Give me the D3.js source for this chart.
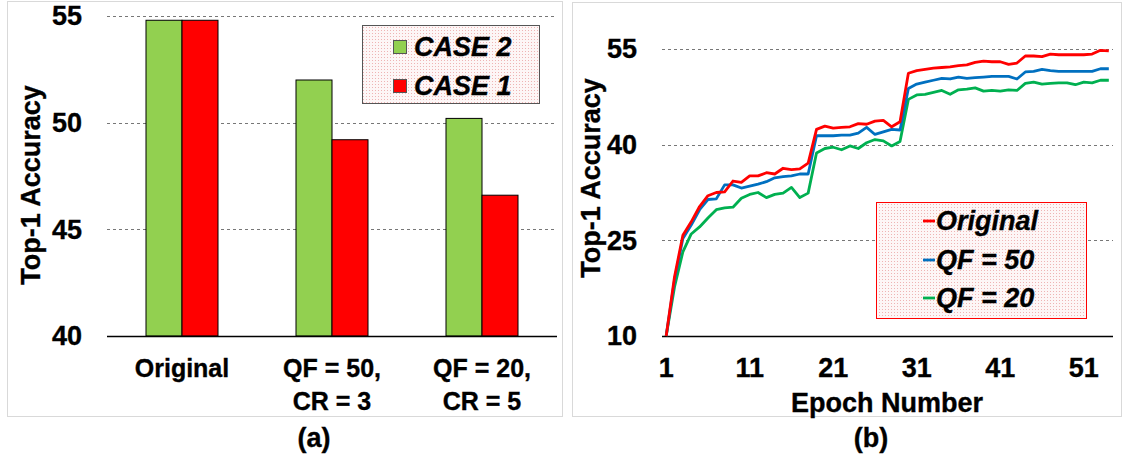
<!DOCTYPE html>
<html>
<head>
<meta charset="utf-8">
<script src="https://cdn.jsdelivr.net/npm/d3@7"></script>
<style>
  html, body { margin: 0; padding: 0; background: #fff; }
  svg { display: block; }
  text { font-family: "Liberation Sans", Arial, sans-serif; font-weight: bold; fill: #000;
         stroke: #000; stroke-width: 0.35px; }
</style>
</head>
<body>
<div id="app"></div>
<script>
// ---- data (a) ----
const categories = [['Original'], ['QF = 50,', 'CR = 3'], ['QF = 20,', 'CR = 5']];
const seriesA = ['CASE 2', 'CASE 1'];
const case2 = [54.8, 52.0, 50.2];
const case1 = [54.8, 49.2, 46.6];
const ticksA = [40, 45, 50, 55];

// ---- data (b) ----
const original = [10, 19.3, 25.8, 27.9, 30.3, 32.0, 32.5, 32.6, 34.3, 34.1,
  35.1, 35.1, 35.6, 35.4, 36.3, 36.1, 36.2, 37.1, 42.4, 42.9,
  42.6, 42.7, 42.8, 43.3, 43.2, 43.7, 43.8, 42.8, 43.6, 51.2,
  51.6, 51.8, 52.0, 52.1, 52.2, 52.4, 52.5, 52.9, 53.1, 53.0,
  53.0, 52.6, 52.8, 53.9, 53.9, 53.8, 54.2, 54.1, 54.1, 54.1,
  54.1, 54.2, 54.8, 54.7];
const qf50 = [10, 18.8, 25.3, 27.4, 29.8, 31.4, 31.5, 33.7, 33.7, 33.2,
  33.5, 33.8, 34.2, 34.8, 35.0, 35.1, 35.4, 35.4, 41.4, 41.4,
  41.4, 41.5, 41.5, 41.8, 42.7, 41.6, 42.0, 42.4, 42.3, 48.8,
  49.5, 49.8, 50.1, 50.4, 50.3, 50.6, 50.4, 50.5, 50.6, 50.7,
  50.7, 50.7, 50.3, 51.4, 51.5, 51.8, 51.6, 51.5, 51.5, 51.5,
  51.5, 51.5, 51.9, 51.9];
const qf20 = [10, 17.7, 23.2, 26.0, 27.1, 28.5, 29.8, 30.1, 30.2, 31.6,
  32.2, 32.5, 31.7, 32.2, 32.4, 33.3, 31.7, 32.4, 38.7, 39.4,
  39.6, 39.2, 39.8, 39.4, 40.3, 40.8, 40.6, 39.8, 40.5, 47.1,
  47.8, 47.9, 48.2, 48.5, 47.9, 48.6, 48.7, 48.9, 48.4, 48.5,
  48.4, 48.6, 48.5, 49.6, 49.8, 49.5, 49.6, 49.7, 49.7, 49.4,
  49.8, 49.7, 50.1, 50.1];
const seriesB = ['Original', 'QF = 50', 'QF = 20'];
const ticksB = [10, 25, 40, 55];
const epochTicks = [1, 11, 21, 31, 41, 51];

const W = 1123, H = 456;
const colA = { 'CASE 2': '#92D050', 'CASE 1': '#FF0000' };
const colB = ['#FF0000', '#0070C0', '#00B050'];

const svg = d3.select('#app').append('svg')
  .attr('width', W).attr('height', H);

const defs = svg.append('defs');
const pat = defs.append('pattern')
  .attr('id', 'dots').attr('width', 3).attr('height', 3)
  .attr('patternUnits', 'userSpaceOnUse');
pat.append('rect').attr('width', 3).attr('height', 3).attr('fill', '#fdf6f6');
pat.append('rect').attr('width', 1).attr('height', 1).attr('fill', '#eeb4b4');

// panel borders
svg.append('rect').attr('x', 7.5).attr('y', 1.5).attr('width', 555).attr('height', 415)
  .attr('fill', 'none').attr('stroke', '#d9d9d9');
svg.append('rect').attr('x', 572.5).attr('y', 2.5).attr('width', 549).attr('height', 414)
  .attr('fill', 'none').attr('stroke', '#d9d9d9');

// ================= (a) =================
const ga = svg.append('g');
const yA = d3.scaleLinear().domain([40, 55]).range([336, 16]);
const x0 = d3.scaleBand().domain(d3.range(categories.length)).range([107, 557]);
const bw = x0.bandwidth();
const x1 = d3.scaleBand().domain(seriesA).range([bw / 2 - 36, bw / 2 + 36]);

ga.selectAll('.grid').data(ticksA.filter(t => t > 40)).join('line')
  .attr('x1', 107).attr('x2', 557)
  .attr('y1', d => Math.round(yA(d)) + 0.5).attr('y2', d => Math.round(yA(d)) + 0.5)
  .attr('stroke', '#777').attr('stroke-dasharray', '3,3');

const valsA = { 'CASE 2': case2, 'CASE 1': case1 };
seriesA.forEach(s => {
  ga.selectAll(null).data(valsA[s]).join('rect')
    .attr('x', (d, i) => x0(i) + x1(s))
    .attr('y', d => yA(d))
    .attr('width', x1.bandwidth())
    .attr('height', d => yA(40) - yA(d))
    .attr('fill', colA[s]).attr('stroke', '#000').attr('stroke-width', 1);
});

ga.append('line').attr('x1', 107).attr('x2', 557).attr('y1', 336.5).attr('y2', 336.5)
  .attr('stroke', '#000').attr('stroke-width', 1.5);

ga.selectAll('.ty').data(ticksA).join('text')
  .attr('x', 82).attr('y', d => yA(d)).attr('dy', '0.35em')
  .attr('text-anchor', 'end').style('font-size', '27px').text(d => d);

categories.forEach((lines, i) => {
  const t = ga.append('text').attr('text-anchor', 'middle').style('font-size', '25px')
    .attr('x', x0(i) + bw / 2).attr('y', 377);
  lines.forEach((l, j) => t.append('tspan').attr('x', x0(i) + bw / 2).attr('dy', j ? 33 : 0).text(l));
});

ga.append('text').attr('transform', 'translate(40,185) rotate(-90)')
  .attr('text-anchor', 'middle').style('font-size', '27px').text('Top-1 Accuracy');

ga.append('text').attr('x', 314).attr('y', 447).attr('text-anchor', 'middle')
  .style('font-size', '27px').text('(a)');

// legend (a)
const la = ga.append('g');
la.append('rect').attr('x', 362.5).attr('y', 25.5).attr('width', 177).attr('height', 78)
  .attr('fill', 'url(#dots)').attr('stroke', '#555');
[['CASE 2', 47], ['CASE 1', 86]].forEach(([s, cy]) => {
  la.append('rect').attr('x', 393.5).attr('y', cy - 6.5).attr('width', 13).attr('height', 13)
    .attr('fill', colA[s]).attr('stroke', '#555');
  la.append('text').attr('x', 414).attr('y', cy).attr('dy', '0.33em')
    .style('font-size', '27px').style('font-style', 'italic').text(s);
});

// ================= (b) =================
const gb = svg.append('g');
const xB = d3.scaleLinear().domain([0.5, 54.5]).range([662, 1113]);
const yB = d3.scaleLinear().domain([10, 55]).range([336, 49]);

gb.selectAll('.grid').data(ticksB.filter(t => t > 10)).join('line')
  .attr('x1', 662).attr('x2', 1113)
  .attr('y1', d => Math.round(yB(d)) + 0.5).attr('y2', d => Math.round(yB(d)) + 0.5)
  .attr('stroke', '#777').attr('stroke-dasharray', '3,3');

gb.append('line').attr('x1', 662).attr('x2', 1113).attr('y1', 336.5).attr('y2', 336.5)
  .attr('stroke', '#000').attr('stroke-width', 1.5);

const line = d3.line().x((d, i) => xB(i + 1)).y(d => yB(d));
[original, qf50, qf20].slice().reverse().forEach((arr, k) => {
  gb.append('path').datum(arr).attr('d', line)
    .attr('fill', 'none').attr('stroke', colB[2 - k]).attr('stroke-width', 2.8)
    .attr('stroke-linejoin', 'round');
});

gb.selectAll('.ty').data(ticksB).join('text')
  .attr('x', 637).attr('y', d => yB(d)).attr('dy', '0.35em')
  .attr('text-anchor', 'end').style('font-size', '27px').text(d => d);

gb.selectAll('.tx').data(epochTicks).join('text')
  .attr('x', d => xB(d)).attr('y', 368).attr('dy', '0.35em')
  .attr('text-anchor', 'middle').style('font-size', '27px').text(d => d);

gb.append('text').attr('x', 887).attr('y', 412).attr('text-anchor', 'middle')
  .style('font-size', '27px').text('Epoch Number');

gb.append('text').attr('transform', 'translate(600,178) rotate(-90)')
  .attr('text-anchor', 'middle').style('font-size', '27px').text('Top-1 Accuracy');

gb.append('text').attr('x', 871).attr('y', 447).attr('text-anchor', 'middle')
  .style('font-size', '27px').text('(b)');

// legend (b)
const lb = gb.append('g');
lb.append('rect').attr('x', 876.5).attr('y', 202.5).attr('width', 210).attr('height', 116)
  .attr('fill', 'url(#dots)').attr('stroke', '#FF0000');
seriesB.forEach((s, i) => {
  const cy = [221, 260, 298][i];
  lb.append('line').attr('x1', 923).attr('x2', 935).attr('y1', cy).attr('y2', cy)
    .attr('stroke', colB[i]).attr('stroke-width', 2.8);
  lb.append('text').attr('x', 936).attr('y', cy).attr('dy', '0.35em')
    .style('font-size', '27px').style('font-style', 'italic').text(s);
});
</script>
</body>
</html>
